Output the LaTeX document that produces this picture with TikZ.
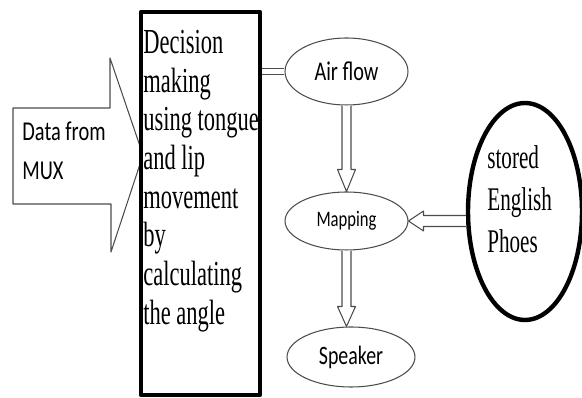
\documentclass[tikz,border=0pt]{standalone}
\usepackage{fontspec}
\setmainfont{Liberation Serif}
\newfontfamily\narrowserif[FakeStretch=0.64]{Liberation Serif}
\newfontfamily\narrowsans[FakeStretch=0.75]{Carlito}
\usetikzlibrary{calc,shapes.geometric}
\begin{document}
\begin{tikzpicture}[x=0.02cm, y=-0.02cm, line join=round,
	thin line/.style={draw=black!70, line width=0.6pt},
	oval/.style={thin line, ellipse, inner sep=0pt, font=\narrowsans},
	hollow/.style={thin line, fill=white},
	serif text/.style={inner sep=0pt, align=left, font=\narrowserif}]
	\useasboundingbox (0,0) rectangle (582,398);
	% big input arrow
	\draw[thin line] (13,108)--(110,108)--(110,58)--(143,155)--(111,252)--(111,204)--(13,204)--cycle;
	\node[anchor=north west, inner sep=0pt, align=left, font=\narrowsans\fontsize{15.5}{22.5}\selectfont] (mux) at (22,121) {Data from\\MUX};
	% decision box
	\node[draw, line width=2.5pt, fill=white, minimum width=2.38cm, minimum height=7.66cm] (dec) at (200.5,203.5) {};
	\node[serif text, anchor=north west, font=\narrowserif\fontsize{20}{22}\selectfont] (dectext) at (143,30)
		{Decision\\making\\using tongue\\and lip\\movement\\by\\calculating\\the angle};
	% ovals
	\node[oval, minimum width=2.46cm, minimum height=1.34cm, font=\narrowsans\fontsize{15.4}{18}\selectfont] (air) at (346.5,71.5) {Air flow};
	\node[oval, minimum width=2.46cm, minimum height=1.16cm, font=\narrowsans\fontsize{12.6}{16}\selectfont] (map) at (346.5,221) {Mapping};
	\node[oval, minimum width=2.56cm, minimum height=1.2cm, font=\narrowsans\fontsize{15.1}{18}\selectfont] (spk) at (351,357) {Speaker};
	\node[draw, ellipse, line width=2.5pt, minimum width=2.28cm, minimum height=4.34cm] (eng) at (525,211.5) {};
	\node[serif text, anchor=north west, font=\narrowserif\fontsize{18.8}{24}\selectfont] (engtext) at (487,145)
		{stored\\English\\Phoes};
	% connectors
	\draw[thin line, double, double distance=2.3pt] (dec.east |- air.west) -- (air.west);
	\draw[hollow] ($(air.south)+(-4.5,0)$) -- ($(map.north)+(-4.5,-22)$) -- ++(-4.5,0) -- (map.north)
		-- ++(9,-22) -- ++(-4.5,0) -- ($(air.south)+(4.5,0)$);
	\draw[hollow] ($(map.south)+(-4.5,0)$) -- ($(map.south |- spk.north)+(-4.5,-20)$) -- ++(-4.5,0) -- (map.south |- spk.north)
		-- ++(9,-20) -- ++(-4.5,0) -- ($(map.south)+(4.5,0)$);
	\draw[hollow] ($(eng.west |- map.east)+(0,-5.5)$) -- ($(map.east)+(15,-5.5)$) -- ++(0,-4.5) -- (map.east)
		-- ++(15,10) -- ++(0,-4.5) -- ($(eng.west |- map.east)+(0,5.5)$);
\end{tikzpicture}
\end{document}
